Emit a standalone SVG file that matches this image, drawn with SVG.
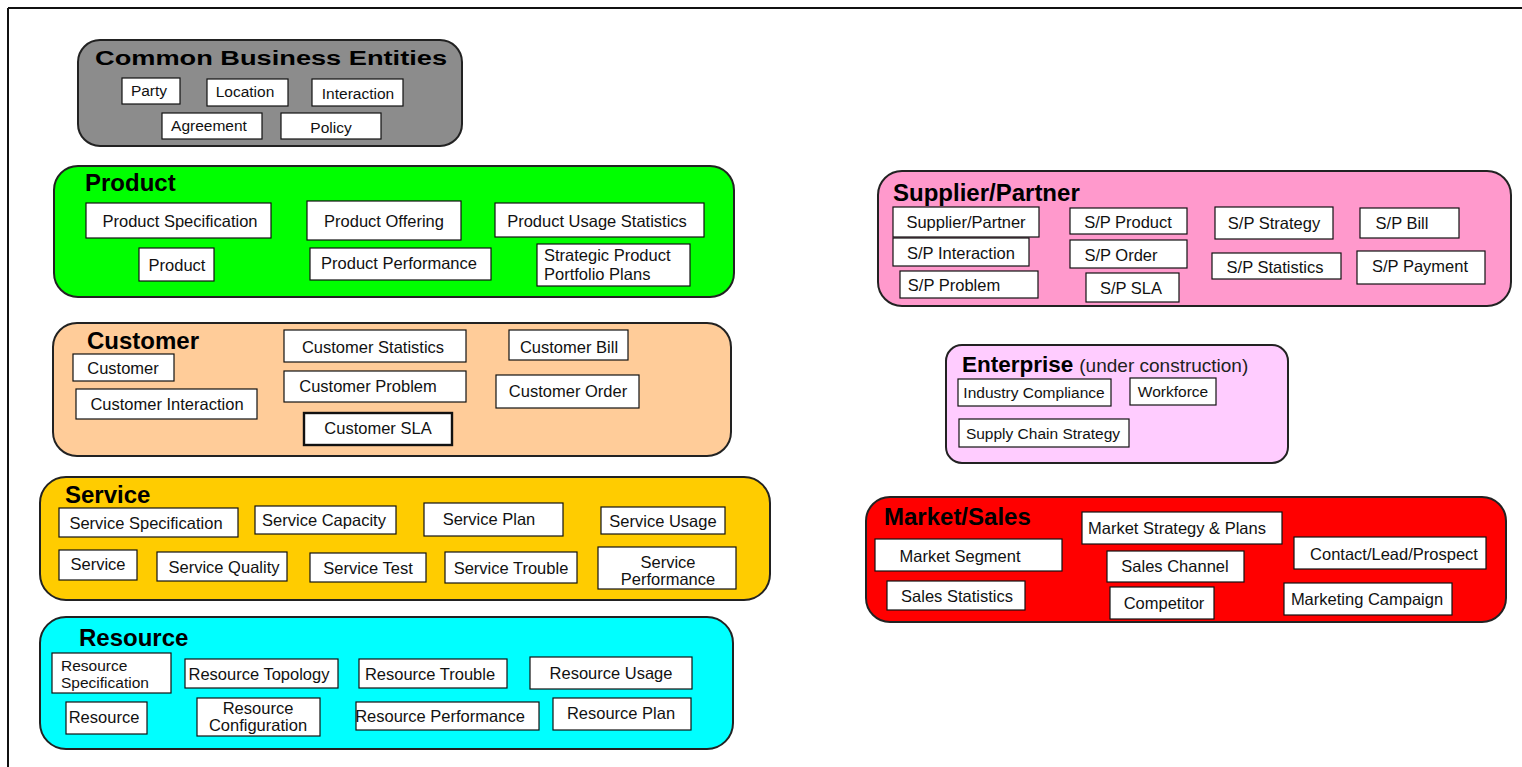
<svg xmlns="http://www.w3.org/2000/svg" width="1522" height="767" viewBox="0 0 1522 767">
<style>
.grp{stroke:#222;stroke-width:2}
.box{fill:#fff;stroke:#111;stroke-width:1.2}
.t{font-family:"Liberation Sans",Arial,sans-serif;font-size:16.5px;fill:#111;text-anchor:middle}
.l{font-family:"Liberation Sans",Arial,sans-serif;font-size:16.5px;fill:#111;text-anchor:start}
.h{font-family:"Liberation Sans",Arial,sans-serif;font-size:24px;font-weight:bold;fill:#000}
.n{font-family:"Liberation Sans",Arial,sans-serif;font-size:19px;fill:#222}
</style>
<rect width="1522" height="767" fill="#fff"/>
<g id="frame" fill="none" stroke="#111" stroke-width="2">
<line x1="8" y1="8" x2="1522" y2="8"/>
<line x1="8" y1="8" x2="8" y2="767"/>
</g>

<g id="cbe">
<rect class="grp" x="78" y="40" width="384" height="106" rx="22" fill="#8c8c8c"/>
<text class="h" x="95" y="65" style="font-size:20px" textLength="352" lengthAdjust="spacingAndGlyphs">Common Business Entities</text>
<rect class="box" x="122" y="78" width="58" height="26"/><text class="t" x="149" y="96" style="font-size:15.5px">Party</text>
<rect class="box" x="207" y="79" width="81" height="27"/><text class="t" x="245" y="97" style="font-size:15.5px">Location</text>
<rect class="box" x="312" y="79" width="91" height="27"/><text class="t" x="358" y="99" style="font-size:15.5px">Interaction</text>
<rect class="box" x="162" y="113" width="100" height="26"/><text class="t" x="209" y="131" style="font-size:15.5px">Agreement</text>
<rect class="box" x="281" y="113" width="100" height="26"/><text class="t" x="331" y="133" style="font-size:15.5px">Policy</text>
</g>

<g id="product">
<rect class="grp" x="54" y="166" width="680" height="131" rx="24" fill="#00ff00"/>
<text class="h" x="85" y="191">Product</text>
<rect class="box" x="86" y="203" width="185" height="35"/><text class="t" x="180" y="227">Product Specification</text>
<rect class="box" x="307" y="201" width="154" height="39"/><text class="t" x="384" y="227">Product Offering</text>
<rect class="box" x="495" y="203" width="209" height="34"/><text class="t" x="597" y="227">Product Usage Statistics</text>
<rect class="box" x="139" y="248" width="75" height="33"/><text class="t" x="177" y="271">Product</text>
<rect class="box" x="310" y="248" width="181" height="32"/><text class="t" x="399" y="269">Product Performance</text>
<rect class="box" x="537" y="244" width="153" height="42"/><text class="l" x="544" y="261">Strategic Product</text><text class="l" x="544" y="280">Portfolio Plans</text>
</g>

<g id="customer">
<rect class="grp" x="53" y="323" width="678" height="133" rx="24" fill="#ffcc99"/>
<text class="h" x="87" y="349">Customer</text>
<rect class="box" x="73" y="354" width="101" height="27"/><text class="t" x="123" y="374">Customer</text>
<rect class="box" x="76" y="389" width="181" height="30"/><text class="t" x="167" y="410">Customer Interaction</text>
<rect class="box" x="284" y="330" width="182" height="32"/><text class="t" x="373" y="353">Customer Statistics</text>
<rect class="box" x="284" y="371" width="182" height="31"/><text class="t" x="368" y="392">Customer Problem</text>
<rect class="box" x="304" y="413" width="148" height="32" style="stroke-width:2.4"/><text class="t" x="378" y="434">Customer SLA</text>
<rect class="box" x="509" y="330" width="119" height="30"/><text class="t" x="569" y="353">Customer Bill</text>
<rect class="box" x="496" y="375" width="143" height="33"/><text class="t" x="568" y="397">Customer Order</text>
</g>

<g id="service">
<rect class="grp" x="40" y="477" width="730" height="123" rx="26" fill="#ffcc00"/>
<text class="h" x="65" y="503">Service</text>
<rect class="box" x="59" y="508" width="179" height="29"/><text class="t" x="146" y="529">Service Specification</text>
<rect class="box" x="255" y="506" width="141" height="28"/><text class="t" x="324" y="526">Service Capacity</text>
<rect class="box" x="424" y="503" width="139" height="33"/><text class="t" x="489" y="525">Service Plan</text>
<rect class="box" x="601" y="507" width="124" height="27"/><text class="t" x="663" y="527">Service Usage</text>
<rect class="box" x="59" y="550" width="78" height="30"/><text class="t" x="98" y="570">Service</text>
<rect class="box" x="157" y="552" width="130" height="29"/><text class="t" x="224" y="573">Service Quality</text>
<rect class="box" x="310" y="553" width="116" height="29"/><text class="t" x="368" y="574">Service Test</text>
<rect class="box" x="445" y="552" width="132" height="31"/><text class="t" x="511" y="574">Service Trouble</text>
<rect class="box" x="598" y="547" width="138" height="42"/><text class="t" x="668" y="568">Service</text><text class="t" x="668" y="585">Performance</text>
</g>

<g id="resource">
<rect class="grp" x="40" y="617" width="693" height="132" rx="26" fill="#00ffff"/>
<text class="h" x="79" y="646">Resource</text>
<rect class="box" x="52" y="653" width="119" height="40"/><text class="l" x="61" y="671" style="font-size:15.5px">Resource</text><text class="l" x="61" y="688" style="font-size:15.5px">Specification</text>
<rect class="box" x="185" y="659" width="153" height="29"/><text class="t" x="259" y="680">Resource Topology</text>
<rect class="box" x="359" y="659" width="148" height="29"/><text class="t" x="430" y="680">Resource Trouble</text>
<rect class="box" x="530" y="657" width="162" height="32"/><text class="t" x="611" y="679">Resource Usage</text>
<rect class="box" x="66" y="702" width="81" height="32"/><text class="t" x="104" y="723">Resource</text>
<rect class="box" x="197" y="698" width="123" height="38"/><text class="t" x="258" y="714">Resource</text><text class="t" x="258" y="731">Configuration</text>
<rect class="box" x="356" y="702" width="183" height="28"/><text class="t" x="440" y="722">Resource Performance</text>
<rect class="box" x="553" y="698" width="138" height="32"/><text class="t" x="621" y="719">Resource Plan</text>
</g>

<g id="supplier">
<rect class="grp" x="878" y="171" width="633" height="135" rx="24" fill="#ff99cc"/>
<text class="h" x="893" y="201">Supplier/Partner</text>
<rect class="box" x="893" y="207" width="146" height="30"/><text class="t" x="966" y="228">Supplier/Partner</text>
<rect class="box" x="893" y="238" width="136" height="28"/><text class="t" x="961" y="259">S/P Interaction</text>
<rect class="box" x="900" y="271" width="138" height="27"/><text class="t" x="954" y="291">S/P Problem</text>
<rect class="box" x="1070" y="208" width="117" height="26"/><text class="t" x="1128" y="228">S/P Product</text>
<rect class="box" x="1070" y="240" width="117" height="28"/><text class="t" x="1121" y="261">S/P Order</text>
<rect class="box" x="1086" y="273" width="93" height="29"/><text class="t" x="1131" y="294">S/P SLA</text>
<rect class="box" x="1215" y="207" width="118" height="32"/><text class="t" x="1274" y="229">S/P Strategy</text>
<rect class="box" x="1212" y="253" width="129" height="26"/><text class="t" x="1275" y="273">S/P Statistics</text>
<rect class="box" x="1360" y="208" width="99" height="30"/><text class="t" x="1402" y="229">S/P Bill</text>
<rect class="box" x="1357" y="251" width="128" height="33"/><text class="t" x="1420" y="272">S/P Payment</text>
</g>

<g id="enterprise">
<rect class="grp" x="946" y="345" width="342" height="118" rx="16" fill="#ffccff"/>
<text x="962" y="372"><tspan class="h" style="font-size:22.5px">Enterprise</tspan><tspan class="n" dx="6" style="font-size:19px">(under construction)</tspan></text>
<rect class="box" x="958" y="379" width="153" height="27"/><text class="t" x="1034" y="398" style="font-size:15.5px">Industry Compliance</text>
<rect class="box" x="1130" y="378" width="86" height="27"/><text class="t" x="1173" y="397" style="font-size:15.5px">Workforce</text>
<rect class="box" x="959" y="419" width="170" height="28"/><text class="t" x="1043" y="439" style="font-size:15.5px">Supply Chain Strategy</text>
</g>

<g id="market">
<rect class="grp" x="866" y="497" width="640" height="125" rx="24" fill="#ff0000"/>
<text class="h" x="884" y="525">Market/Sales</text>
<rect class="box" x="875" y="539" width="187" height="32"/><text class="t" x="960" y="562">Market Segment</text>
<rect class="box" x="887" y="581" width="138" height="29"/><text class="t" x="957" y="602">Sales Statistics</text>
<rect class="box" x="1082" y="512" width="200" height="32"/><text class="t" x="1177" y="534">Market Strategy &amp; Plans</text>
<rect class="box" x="1107" y="551" width="137" height="31"/><text class="t" x="1175" y="572">Sales Channel</text>
<rect class="box" x="1110" y="587" width="104" height="32"/><text class="t" x="1164" y="609">Competitor</text>
<rect class="box" x="1294" y="537" width="192" height="32"/><text class="t" x="1394" y="560">Contact/Lead/Prospect</text>
<rect class="box" x="1284" y="583" width="168" height="32"/><text class="t" x="1367" y="605">Marketing Campaign</text>
</g>

<g id="connectors"></g>
</svg>
